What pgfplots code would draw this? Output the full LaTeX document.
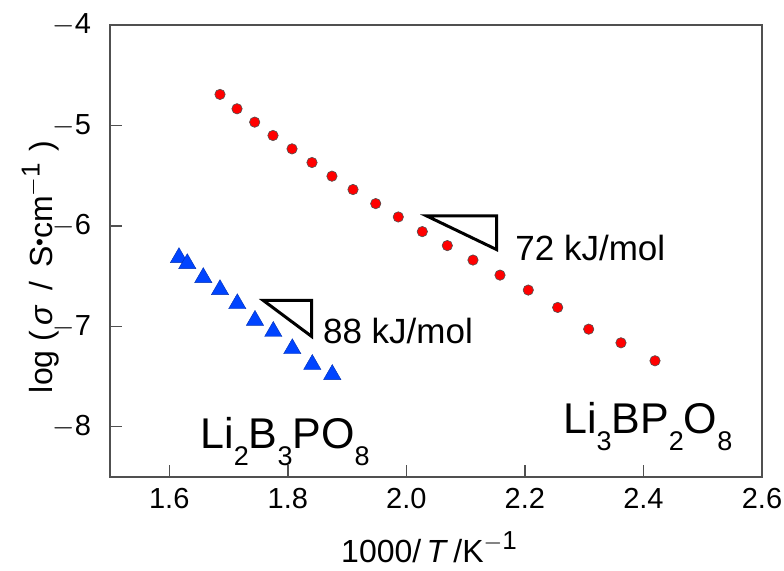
\documentclass[border=0pt]{standalone}
\usepackage{pgfplots}
\pgfplotsset{compat=1.18}
\usepackage{fontspec}
\setmainfont{Liberation Sans}

\definecolor{ptred}{RGB}{255,0,0}
\definecolor{ptblue}{RGB}{0,68,255}
\definecolor{frame}{RGB}{80,80,80}

\newcommand{\sub}[1]{\raisebox{-8.5pt}{\fontsize{13.5}{14}\selectfont #1}}

\begin{document}
\begin{tikzpicture}
\useasboundingbox (-55pt,-46.5pt) rectangle (337pt,238.5pt);
\begin{axis}[
    scale only axis,
    width=326pt, height=226pt,
    xmin=1.5, xmax=2.6, ymin=-8.5, ymax=-4,
    xtick={1.6,1.8,2.0,2.2,2.4,2.6},
    ytick={-4,-5,-6,-7,-8},
    xticklabels={1.6,1.8,2.0,2.2,2.4,2.6},
    yticklabels={$-$4,$-$5,$-$6,$-$7,$-$8},
    tick align=inside,
    xtick pos=bottom, ytick pos=left,
    major tick length=6pt,
    axis line style={frame, line width=0.7pt},
    every tick/.style={frame, line width=0.7pt},
    tick label style={font=\fontsize{14.5}{16}\selectfont},
    xticklabel style={yshift=-2pt},
    yticklabel style={xshift=-6pt},
    xlabel={1000/\,\textit{T}\,/K\textsuperscript{\fontsize{13}{14}\selectfont$-$1}},
    ylabel={log\ (\,\textit{σ}\, /\, S\raisebox{0.3ex}{\scalebox{0.7}{•}}cm\textsuperscript{\fontsize{13}{14}\selectfont$-$1}\,\,)},
    every axis x label/.style={at={(axis description cs:0.49,0)}, anchor=center, yshift=-35pt, font=\fontsize{16}{18}\selectfont},
    every axis y label/.style={at={(axis description cs:-0.107,0.465)}, anchor=center, rotate=90, font=\fontsize{16}{18}\selectfont},
    clip=false,
]
% Li3BP2O8
\addplot[only marks, mark=*, mark size=2.6pt, mark options={fill=ptred, draw=frame, line width=0.3pt}] coordinates {
(1.6856,-4.691) (1.7143,-4.834) (1.7441,-4.967) (1.7750,-5.100)
(1.8071,-5.233) (1.8408,-5.369) (1.8745,-5.505) (1.9100,-5.638)
(1.9483,-5.778) (1.9864,-5.911) (2.0269,-6.057) (2.0691,-6.196)
(2.1124,-6.340) (2.1580,-6.490) (2.2057,-6.639) (2.2553,-6.812)
(2.3076,-7.028) (2.3621,-7.164) (2.4195,-7.343)
};
% Li2B3PO8
\addplot[only marks, mark=triangle*, mark size=5pt, mark options={fill=ptblue, draw=ptblue!70!black, line width=0.2pt}] coordinates {
(1.6164,-6.316) (1.6304,-6.376) (1.6574,-6.515) (1.6856,-6.635)
(1.7148,-6.775) (1.7446,-6.941) (1.7755,-7.051) (1.8076,-7.223)
(1.8413,-7.380) (1.8750,-7.480)
};
% slope triangles
\addplot[black, line width=1.5pt, line join=miter] coordinates {
(2.0343,-5.901) (2.1524,-5.901) (2.1524,-6.236)} -- cycle;
\addplot[black, line width=1.5pt, line join=miter] coordinates {
(1.7586,-6.742) (1.8403,-6.742) (1.8403,-7.101)} -- cycle;
\node[anchor=base west, inner sep=0, font=\fontsize{17.5}{20}\selectfont] at (axis cs:2.1833,-6.343) {72 kJ/mol};
\node[anchor=base west, inner sep=0, font=\fontsize{17.5}{20}\selectfont] at (axis cs:1.8588,-7.174) {88 kJ/mol};
\node[anchor=base west, inner sep=0, font=\fontsize{21.5}{24}\selectfont] at (axis cs:1.6518,-8.217) {Li\sub{2}B\sub{3}PO\sub{8}};
\node[anchor=base west, inner sep=0, font=\fontsize{21.5}{24}\selectfont] at (axis cs:2.2638,-8.071) {Li\sub{3}BP\sub{2}O\sub{8}};
\end{axis}
\end{tikzpicture}
\end{document}
